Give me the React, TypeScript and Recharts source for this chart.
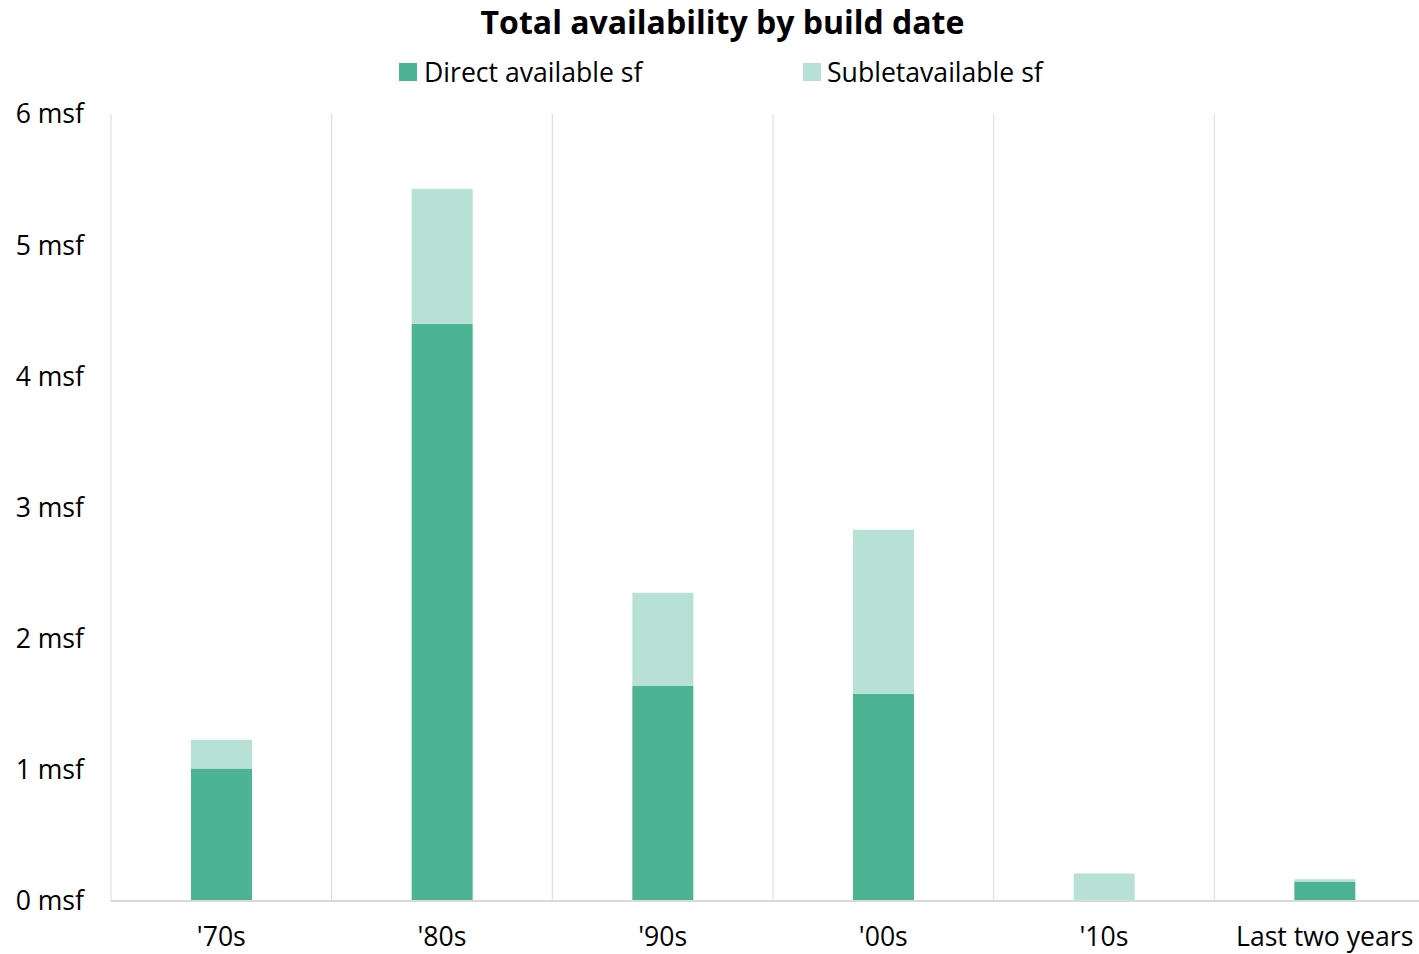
import { BarChart, Bar, XAxis, YAxis, CartesianGrid } from "recharts";

const decades = ["'70s", "'80s", "'90s", "'00s", "'10s", "Last two years"];
const directAvailable = [1.01, 4.4, 1.64, 1.58, 0.01, 0.145];
const subletAvailable = [0.22, 1.03, 0.71, 1.25, 0.2, 0.02];
const yTicks = [0, 1, 2, 3, 4, 5, 6];

const chartData = decades.map((decade, i) => ({
  decade,
  direct: directAvailable[i],
  sublet: subletAvailable[i],
}));

const DIRECT = "#4DB493";
const SUBLET = "#B7E1D5";
const FONT = "'Open Sans', sans-serif";

const LegendBox = () => (
  <div
    style={{
      position: "absolute",
      top: 54,
      left: 399,
      display: "flex",
      fontFamily: FONT,
      fontSize: 26.6,
      lineHeight: "36px",
      color: "#000",
    }}
  >
    <div style={{ display: "flex", alignItems: "center", width: 404 }}>
      <span style={{ width: 18, height: 18, background: DIRECT, marginRight: 7 }} />
      Direct available sf
    </div>
    <div style={{ display: "flex", alignItems: "center" }}>
      <span style={{ width: 18, height: 18, background: SUBLET, marginRight: 6 }} />
      Subletavailable sf
    </div>
  </div>
);

const App = () => {
  return (
    <div style={{ position: "absolute", left: 0, top: 0, width: 1419, height: 954, overflow: "hidden", background: "#fff" }}>
      <div
        style={{
          position: "absolute",
          top: 0,
          width: 1445,
          textAlign: "center",
          fontFamily: FONT,
          fontWeight: 700,
          fontSize: 32,
          lineHeight: "44px",
          color: "#000",
        }}
      >
        Total availability by build date
      </div>
      <LegendBox />
      <BarChart
        width={1435}
        height={954}
        data={chartData}
        margin={{ top: 114, right: 0, left: 0, bottom: 0 }}
        barSize={61}
      >
        <CartesianGrid
          horizontal={false}
          stroke="#d9d9d9"
          verticalCoordinatesGenerator={({ offset }: any) =>
            decades.map((_, i) => offset.left + (i * offset.width) / decades.length)
          }
        />
        <XAxis
          dataKey="decade"
          height={53}
          tickLine={false}
          tickMargin={20}
          axisLine={{ stroke: "#d9d9d9", strokeWidth: 2 }}
          tick={{ fontFamily: FONT, fontSize: 26.6, fill: "#000" }}
          interval={0}
        />
        <YAxis
          width={111}
          domain={[0, 6]}
          ticks={yTicks}
          tickLine={false}
          axisLine={false}
          tickMargin={21}
          tickFormatter={(v: number) => `${v} msf`}
          tick={{ fontFamily: FONT, fontSize: 26.6, fill: "#000" }}
        />
        <Bar dataKey="direct" name="Direct available sf" stackId="a" fill={DIRECT} isAnimationActive={false} />
        <Bar dataKey="sublet" name="Subletavailable sf" stackId="a" fill={SUBLET} isAnimationActive={false} />
      </BarChart>
    </div>
  );
};

export default App;
